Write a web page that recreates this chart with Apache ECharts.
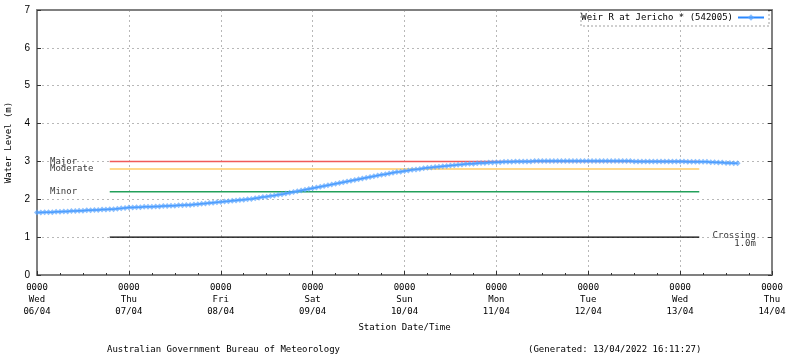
<!DOCTYPE html>
<html>
<head>
<meta charset="utf-8">
<script src="https://cdn.jsdelivr.net/npm/echarts@6/dist/echarts.min.js"></script>
<style>
  html, body { margin: 0; padding: 0; background: #fff; }
  #chart { width: 800px; height: 358px; }
</style>
</head>
<body>
<div id="chart"></div>
<script>
/* datos: lecturas horarias desde 06/04 00:00 */
const seriesName = 'Weir R at Jericho * (542005)';
const levels = [
    1.65,1.65,1.66,1.66,1.66,1.67,1.67,1.68,1.68,1.69,1.69,1.70,1.70,1.71,1.71,1.72,1.72,1.73,1.73,1.74,1.74,1.75,1.76,1.77,
    1.78,1.78,1.79,1.79,1.80,1.80,1.80,1.81,1.81,1.82,1.82,1.83,1.83,1.84,1.84,1.85,1.85,1.86,1.87,1.88,1.89,1.90,1.91,1.92,
    1.93,1.94,1.95,1.96,1.97,1.98,1.99,2.00,2.01,2.03,2.04,2.06,2.07,2.09,2.10,2.12,2.13,2.15,2.17,2.19,2.21,2.23,2.25,2.27,
    2.29,2.31,2.33,2.35,2.37,2.39,2.41,2.43,2.45,2.47,2.49,2.51,2.53,2.55,2.57,2.59,2.61,2.63,2.65,2.66,2.68,2.70,2.72,2.73,
    2.75,2.76,2.78,2.79,2.80,2.82,2.83,2.84,2.85,2.86,2.87,2.88,2.89,2.90,2.91,2.92,2.93,2.94,2.94,2.95,2.96,2.96,2.97,2.97,
    2.98,2.98,2.99,2.99,2.99,3.00,3.00,3.00,3.00,3.00,3.01,3.01,3.01,3.01,3.01,3.01,3.01,3.01,3.01,3.01,3.01,3.01,3.01,3.01,
    3.01,3.01,3.01,3.01,3.01,3.01,3.01,3.01,3.01,3.01,3.01,3.01,3.00,3.00,3.00,3.00,3.00,3.00,3.00,3.00,3.00,3.00,3.00,3.00,
    3.00,3.00,2.99,2.99,2.99,2.99,2.99,2.99,2.98,2.98,2.97,2.97,2.96,2.96,2.95,2.95
];

const dayNames = ['Wed', 'Thu', 'Fri', 'Sat', 'Sun', 'Mon', 'Tue', 'Wed', 'Thu'];
const dayDates = ['06/04', '07/04', '08/04', '09/04', '10/04', '11/04', '12/04', '13/04', '14/04'];

const thresholdNames = ['Major', 'Moderate', 'Minor'];
const thresholdLevels = [3.0, 2.8, 2.2];
const crossingLevel = 1.0;
const thresholdStartHour = 19;
const thresholdEndHour = 173;

/* estilos */
const thresholdColors = ['#f05a5a', '#ffcc66', '#22a05a'];
const monoFont = 'DejaVu Sans Mono';
const labelHour = 3.4;
const crossingLabelHour = 187.8;

const chart = echarts.init(document.getElementById('chart'));

const mainData = levels.map((v, i) => [i, v]);

const thresholdSeries = thresholdLevels.map((lvl, i) => ({
    name: thresholdNames[i],
    type: 'line',
    data: [[thresholdStartHour, lvl], [thresholdEndHour, lvl]],
    symbol: 'none',
    silent: true,
    z: 1,
    lineStyle: { color: thresholdColors[i], width: 1.5 }
}));

thresholdSeries.push({
    name: 'Crossing',
    type: 'line',
    data: [[thresholdStartHour, crossingLevel], [thresholdEndHour, crossingLevel]],
    symbol: 'none',
    silent: true,
    z: 1,
    lineStyle: { color: '#000', width: 1.2 }
});

const labelData = thresholdLevels.map((lvl, i) => ({
    value: [labelHour, lvl],
    label: { show: true, position: 'right', distance: 0, formatter: thresholdNames[i] }
}));
labelData.push({
    value: [crossingLabelHour, crossingLevel],
    label: {
        show: true, position: 'left', distance: 0, align: 'right',
        offset: [0, 3], lineHeight: 8,
        formatter: 'Crossing\n' + crossingLevel.toFixed(1) + 'm'
    }
});

const axisGrey = '#808080';
const gridLine = { show: true, lineStyle: { color: '#b8b8b8', type: [2, 3], width: 1 } };

const option = {
    animation: false,
    textStyle: { fontFamily: monoFont },
    grid: { left: 37, right: 28, top: 10, bottom: 83, containLabel: false, outerBoundsMode: 'none' },
    legend: {
        data: [seriesName],
        right: 35,
        top: 13,
        padding: 0,
        align: 'right',
        itemWidth: 26,
        itemHeight: 8,
        textStyle: { fontFamily: monoFont, fontSize: 9, color: '#000' }
    },
    xAxis: [{
        type: 'value',
        min: 0,
        max: 192,
        interval: 24,
        position: 'bottom',
        axisLine: { show: true, onZero: false, lineStyle: { color: axisGrey, width: 2 } },
        axisTick: { show: true, inside: true, length: 4, lineStyle: { color: '#333' } },
        minorTick: { show: true, splitNumber: 4, length: 2, lineStyle: { color: '#333' } },
        splitLine: gridLine,
        axisLabel: {
            showMaxLabel: true,
            showMinLabel: true,
            margin: 7,
            lineHeight: 12,
            fontFamily: monoFont,
            fontSize: 9,
            color: '#000',
            formatter: function (v) {
                const d = Math.round(v / 24);
                return '0000\n' + dayNames[d] + '\n' + dayDates[d];
            }
        },
        name: 'Station Date/Time',
        nameLocation: 'middle',
        nameGap: 47,
        nameTextStyle: { fontFamily: monoFont, fontSize: 9, color: '#000' }
    }, {
        type: 'value',
        min: 0,
        max: 192,
        position: 'top',
        axisLine: { show: true, onZero: false, lineStyle: { color: axisGrey, width: 2 } },
        axisTick: { show: false },
        axisLabel: { show: false },
        splitLine: { show: false }
    }],
    yAxis: [{
        type: 'value',
        min: 0,
        max: 7,
        interval: 1,
        position: 'left',
        axisLine: { show: true, onZero: false, lineStyle: { color: axisGrey, width: 2 } },
        axisTick: { show: true, inside: true, length: 4, lineStyle: { color: '#333' } },
        splitLine: gridLine,
        axisLabel: { margin: 7, fontFamily: 'Liberation Sans', fontSize: 10, color: '#000' },
        name: 'Water Level (m)',
        nameLocation: 'middle',
        nameGap: 24,
        nameRotate: 90,
        nameTextStyle: { fontFamily: monoFont, fontSize: 9, color: '#000' }
    }, {
        type: 'value',
        min: 0,
        max: 7,
        interval: 1,
        position: 'right',
        axisLine: { show: true, onZero: false, lineStyle: { color: axisGrey, width: 2 } },
        axisTick: { show: true, inside: true, length: 4, lineStyle: { color: '#333' } },
        axisLabel: { show: false },
        splitLine: { show: false }
    }],
    series: [{
        name: seriesName,
        type: 'line',
        data: mainData,
        symbol: 'diamond',
        symbolSize: 6,
        showAllSymbol: true,
        z: 3,
        lineStyle: { color: '#2a88ff', width: 1.5 },
        itemStyle: { color: 'rgba(90,165,255,0.7)' }
    }].concat(thresholdSeries).concat([{
        name: 'labels',
        type: 'scatter',
        symbolSize: 0,
        silent: true,
        data: labelData,
        label: { fontFamily: monoFont, fontSize: 9, color: '#000' }
    }]),
    graphic: [{
        type: 'rect',
        shape: { x: 581, y: 10, width: 188, height: 16 },
        style: { fill: 'none', stroke: '#a0a0a0', lineWidth: 1, lineDash: [2, 2] },
        silent: true
    }, {
        type: 'text',
        left: 107,
        top: 345,
        style: { text: 'Australian Government Bureau of Meteorology', font: '9px "DejaVu Sans Mono"', fill: '#000' }
    }, {
        type: 'text',
        left: 528,
        top: 345,
        style: { text: '(Generated: 13/04/2022 16:11:27)', font: '9px "DejaVu Sans Mono"', fill: '#000' }
    }]
};

chart.setOption(option);
chart.resize();
</script>
</body>
</html>
